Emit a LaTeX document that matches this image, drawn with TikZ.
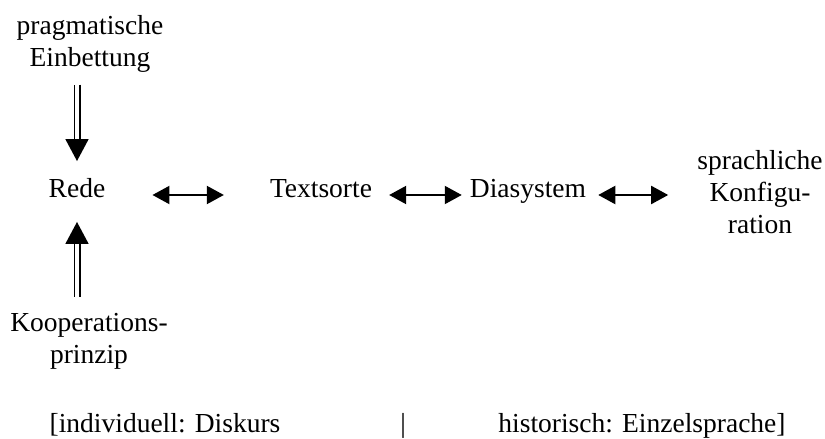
\documentclass[tikz,border=0pt]{standalone}
\usepackage{fontspec}
\setmainfont{Liberation Serif}
\usetikzlibrary{arrows.meta,positioning}

\begin{document}
\begin{tikzpicture}[x=1pt,y=1pt,
  every node/.style={inner sep=0pt,font=\fontsize{27.5}{32}\selectfont},
  word/.style={text height=0.7em,text depth=0.25em},
  block/.style={align=center},
  biarrow/.style={line width=2pt,{Triangle[length=17pt,width=18pt]}-{Triangle[length=17pt,width=18pt]}},
  dblarrow/.style={double,double distance=3.6pt,line width=1.7pt,-{Triangle[length=22pt,width=23pt]}}]
  \useasboundingbox (0,0) rectangle (825,439);

  % Main row
  \node[word] (rede) at (77,244) {Rede};
  \node[word] (textsorte) at (321,244) {Textsorte};
  \node[word] (diasystem) at (528,244) {Diasystem};
  \node[block] (konfig) at (760,247) {sprachliche\\Konfigu-\\ration};

  % Influences on the speech
  \node[block] (einbettung) at (90,395) {pragmatische\\Einbettung};
  \node[block] (kooperation) at (89,98) {Kooperations-\\prinzip};

  % Bottom line
  \node[anchor=base] (diskurs) at (165,6) {[individuell: Diskurs};
  \node[anchor=base] (trenner) at (403,6) {|};
  \node[anchor=base] (einzelsprache) at (642,6) {historisch: Einzelsprache]};

  % Arrows
  \draw[biarrow,shorten <=47pt,shorten >=46pt] (rede.east) -- (textsorte.west);
  \draw[biarrow,shorten <=17pt,shorten >=8pt] (textsorte.east) -- (diasystem.west);
  \draw[biarrow,shorten <=12pt,shorten >=29pt] (diasystem.east) -- (diasystem.east -| konfig.west);
  \draw[dblarrow,shorten <=12pt,shorten >=29pt] (rede.north |- einbettung.south) -- (rede.north);
  \draw[dblarrow,shorten <=16pt,shorten >=22pt] (rede.south |- kooperation.north) -- (rede.south);
\end{tikzpicture}
\end{document}
